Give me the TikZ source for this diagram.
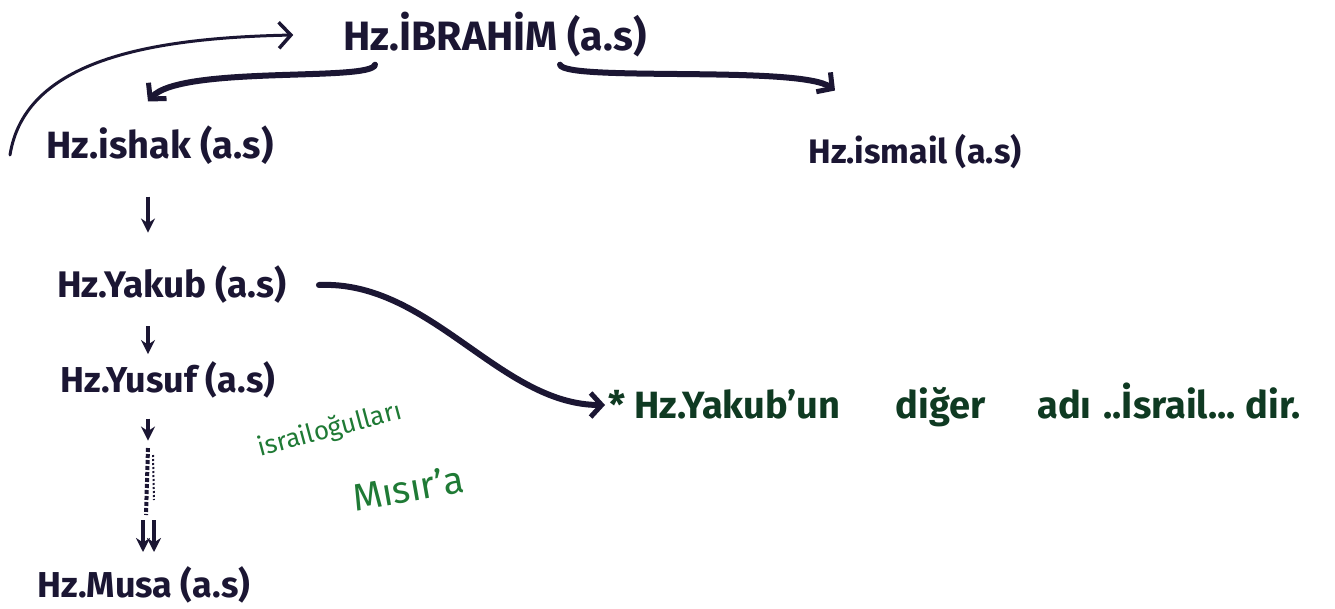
\documentclass[tikz,border=0pt]{standalone}
\usepackage{fontspec}
\setmainfont{Fira Sans}
\usetikzlibrary{arrows.meta}
\definecolor{ink}{HTML}{1B1633}
\definecolor{notegreen}{HTML}{0F3A22}
\definecolor{leafgreen}{HTML}{1F7A35}
\tikzset{
  prophet/.style={font=\fontsize{36}{40}\selectfont\bfseries, text=ink, inner sep=2pt},
  bigarrow/.style={draw=ink, line width=6pt, line cap=round,
    -{Straight Barb[length=11pt,width=24pt,line width=5pt]}},
  thinarrow/.style={draw=ink, line width=3pt, line cap=round,
    -{Straight Barb[length=12pt,width=26pt,line width=3.5pt]}},
  downarrow/.style={draw=ink, line width=4pt, -{Stealth[length=14pt,width=14pt]}},
}
\begin{document}
\begin{tikzpicture}[x=1pt,y=-1pt]
\useasboundingbox[fill=white] (0,0) rectangle (1335,608);

% names
\node[prophet, font=\fontsize{41}{44}\selectfont\bfseries] (ibrahim) at (495,35) {Hz.İBRAHİM (a.s)};
\node[prophet, font=\fontsize{38}{42}\selectfont\bfseries] (ishak) at (160,145) {Hz.ishak (a.s)};
\node[prophet, font=\fontsize{34}{38}\selectfont\bfseries] (ismail) at (915,152) {Hz.ismail (a.s)};
\node[prophet, font=\fontsize{37}{40}\selectfont\bfseries] (yakub) at (172,285) {Hz.Yakub (a.s)};
\node[prophet] (yusuf) at (168,380) {Hz.Yusuf (a.s)};
\node[prophet] (musa) at (144,585) {Hz.Musa (a.s)};

% notes
\node[font=\fontsize{38}{42}\selectfont\bfseries, text=notegreen, anchor=west] (note) at (605,405)
  {* Hz.Yakub'un\hspace{55pt}diğer\hspace{52pt}adı\hspace{12pt}..İsrail...\hspace{10pt}dir.};
\node[font=\fontsize{26}{30}\selectfont, text=leafgreen, rotate=15] (israil) at (330,430) {israiloğulları};
\node[font=\fontsize{38}{42}\selectfont, text=leafgreen, rotate=10] (misir) at (408,488) {Mısır'a};

\coordinate (spine) at (148,0);
\coordinate (arcstart) at (10,155);

% arrows
\draw[thinarrow] (arcstart) .. controls (25,60) and (150,38) .. ([xshift=-48pt]ibrahim.west);
\draw[bigarrow] ([xshift=-120pt,yshift=-5pt]ibrahim.south) .. controls (372,82) and (180,65) .. ([xshift=-12pt,yshift=22pt]ishak.north);
\draw[bigarrow] ([xshift=65pt,yshift=-5pt]ibrahim.south) .. controls (565,82) and (800,65) .. ([xshift=-80pt,yshift=42pt]ismail.north);
\draw[downarrow] (spine |- ishak.south) ++(0,30) -- ++(0,36);
\draw[downarrow] (spine |- yakub.south) ++(0,20) -- ++(0,28);
\draw[downarrow] (spine |- yusuf.south) ++(0,18) -- ++(0,22);
\draw[ink, line width=4pt, dotted] (148,448) -- (146,515);
\draw[ink, line width=2pt, dotted] (153,455) -- (154,500);
\draw[downarrow] (143,520) -- (143,552);
\draw[downarrow] (154,520) -- (154,552);
\draw[bigarrow] ([xshift=30pt]yakub.east) .. controls (430,280) and (500,405) .. (note.west);
\end{tikzpicture}
\end{document}
